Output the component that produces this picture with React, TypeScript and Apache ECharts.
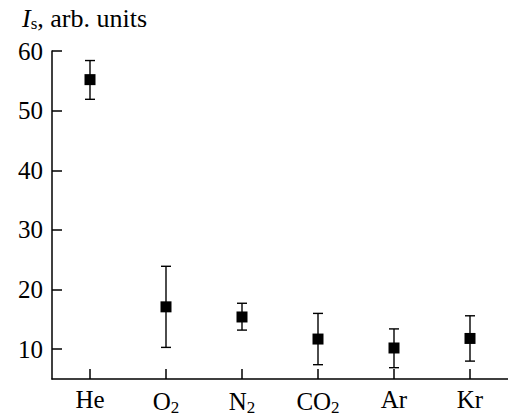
import React, { useEffect, useRef } from "react";
import * as echarts from "echarts";

const categories = ["He", "O{sub|2}", "N{sub|2}", "CO{sub|2}", "Ar", "Kr"];
const values = [55.2, 17.1, 15.4, 11.7, 10.2, 11.8];
const upper = [58.4, 23.9, 17.7, 16.0, 13.4, 15.6];
const lower = [51.9, 10.3, 13.2, 7.4, 6.9, 8.0];
const yTicks = [10, 20, 30, 40, 50, 60];

const FONT = "Liberation Serif";

export default function App() {
  const ref = useRef<HTMLDivElement>(null);
  useEffect(() => {
    if (!ref.current) return;
    const chart = echarts.init(ref.current, undefined, { renderer: "svg" });
    const data = values.map((v, i) => [i, v, lower[i], upper[i]]);
    chart.setOption({
      animation: false,
      backgroundColor: "#fff",
      title: {
        text: "{i|I}{s|s}{n|, arb. units}",
        left: 17,
        top: 0,
        textStyle: {
          fontWeight: "normal",
          fontFamily: FONT,
          rich: {
            i: { fontFamily: FONT, fontStyle: "italic", fontWeight: "normal", fontSize: 26, color: "#000" },
            s: { fontFamily: FONT, fontWeight: "normal", fontSize: 17, color: "#000", padding: [10, 0, 0, 0] },
            n: { fontFamily: FONT, fontWeight: "normal", fontSize: 26, color: "#000" },
          },
        },
      },
      grid: { left: 52, right: 0, top: 51, bottom: 36 },
      xAxis: {
        type: "category",
        data: categories,
        boundaryGap: true,
        axisLine: { show: true, onZero: false, lineStyle: { color: "#000", width: 1.5 } },
        axisTick: { show: true, inside: true, alignWithLabel: true, interval: 0, length: 10, lineStyle: { color: "#000", width: 1.5 } },
        axisLabel: {
          interval: 0,
          margin: 8,
          color: "#000",
          fontFamily: FONT,
          fontSize: 25,
          rich: {
            sub: { fontFamily: FONT, fontSize: 17, color: "#000", padding: [12, 0, 0, 0] },
          },
        },
        splitLine: { show: false },
      },
      yAxis: {
        type: "value",
        min: 5,
        max: 60,
        splitNumber: 5,
        minInterval: 10,
        maxInterval: 10,
        axisLine: { show: true, lineStyle: { color: "#000", width: 1.5 } },
        axisTick: { show: true, inside: true, length: 10, lineStyle: { color: "#000", width: 1.5 } },
        axisLabel: {
          showMinLabel: false,
          margin: 9,
          color: "#000",
          fontFamily: FONT,
          fontSize: 25,
          formatter: (v: number) => (yTicks.includes(v) ? String(v) : ""),
        },
        splitLine: { show: false },
      },
      series: [
        {
          type: "custom",
          data,
          encode: { x: 0, y: 1 },
          renderItem: (params: any, api: any) => {
            const x = api.value(0);
            const c = api.coord([x, api.value(1)]);
            const lo = api.coord([x, api.value(2)]);
            const hi = api.coord([x, api.value(3)]);
            const cap = 5;
            const s = 11;
            const ls = { stroke: "#000", lineWidth: 1.4 };
            return {
              type: "group",
              children: [
                { type: "line", shape: { x1: c[0], y1: hi[1], x2: c[0], y2: lo[1] }, style: ls },
                { type: "line", shape: { x1: c[0] - cap, y1: hi[1], x2: c[0] + cap, y2: hi[1] }, style: ls },
                { type: "line", shape: { x1: c[0] - cap, y1: lo[1], x2: c[0] + cap, y2: lo[1] }, style: ls },
                { type: "rect", shape: { x: c[0] - s / 2, y: c[1] - s / 2, width: s, height: s }, style: { fill: "#000" } },
              ],
            };
          },
        },
      ],
    });
    return () => chart.dispose();
  }, []);
  return <div ref={ref} style={{ width: 508, height: 416, position: "absolute", left: 0, top: 0 }} />;
}
